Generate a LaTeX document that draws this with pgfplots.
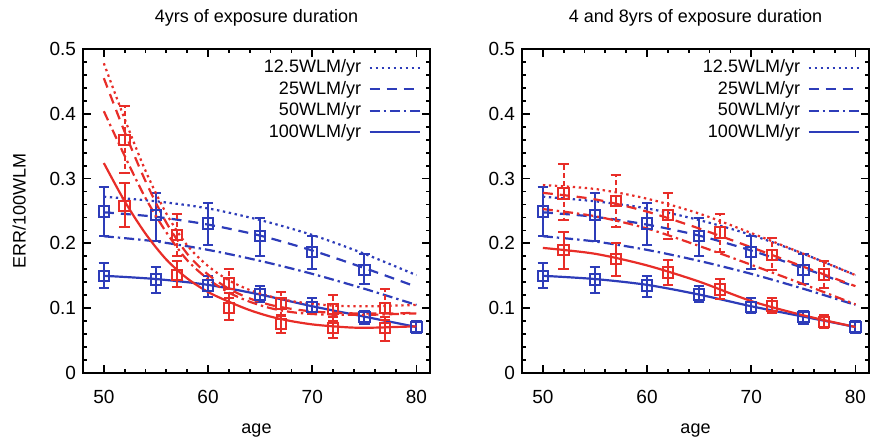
\documentclass[border=0pt]{standalone}
\usepackage{pgfplots}
\pgfplotsset{compat=1.18}
\usepackage{fontspec}
\setmainfont{Liberation Sans}
\definecolor{gblue}{RGB}{45,60,185}
\definecolor{gred}{RGB}{232,45,40}
\pgfplotsset{
  myaxis/.style={
    width=173.5pt, height=162pt, scale only axis,
    xmin=48, xmax=81.3, ymin=0, ymax=0.5,
    xtick={50,60,70,80}, minor x tick num=4,
    ytick={0,0.1,0.2,0.3,0.4,0.5}, minor y tick num=4,
    tick align=inside, tick pos=both,
    major tick length=4pt, minor tick length=2pt,
    every tick/.style={black, line width=0.9pt},
    axis line style={line width=1pt},
    tick label style={font=\fontsize{9.5}{11}\selectfont},
    /pgf/number format/assume math mode=true,
    yticklabel style={/pgf/number format/fixed, /pgf/number format/precision=1},
    xticklabel style={yshift=-5.3pt},
    every axis title/.style={at={(0.5,1)}, anchor=center, yshift=15.5pt, font=\fontsize{9}{11}\selectfont},
    label style={font=\fontsize{9}{11}\selectfont},
    xlabel style={at={(axis description cs:0.5,0)}, anchor=center, yshift=-29pt},
    legend style={at={(1,1)}, anchor=north east, xshift=-4.5pt, yshift=-4.5pt,
      draw=none, fill=none, inner sep=0pt, row sep=1.3pt, column sep=3pt,
      font=\fontsize{9}{10}\selectfont, nodes={inner sep=0.7pt}},
    legend cell align=right, legend plot pos=right,
    legend image code/.code={\draw[#1] (0pt,0pt) -- (25pt,0pt);},
  },
  ldot/.style={line width=1.1pt, dash pattern=on 1.2pt off 1.8pt, mark=none},
  ldash/.style={line width=1.1pt, dash pattern=on 5pt off 3.5pt, mark=none},
  ldashdot/.style={line width=1.1pt, dash pattern=on 5pt off 2pt on 1.2pt off 2pt, mark=none},
  lsolid/.style={line width=1.1pt, solid, mark=none},
  pts/.style={only marks, mark=square, mark size=2.6pt, line width=1pt,
    error bars/y dir=both, error bars/y explicit,
    error bars/error mark options={rotate=90, mark size=2.6pt, line width=1pt, solid},
    error bars/error bar style={line width=1pt}},
  dpts/.style={pts, error bars/error bar style={line width=1pt, dash pattern=on 2.5pt off 1.5pt}},
}
\begin{document}
\begin{tikzpicture}
\useasboundingbox (0pt,-32.5pt) rectangle (436.5pt,186.5pt);
% ---------------- left panel ----------------
\begin{axis}[myaxis, at={(41.5pt,0pt)}, anchor=south west,
  title={4yrs of exposure duration}, xlabel={age}, ylabel={ERR/100WLM},
  ylabel style={at={(axis description cs:-0.184,0.5)}, anchor=center}]
\addplot[gblue, ldot, smooth] coordinates {(50,0.272)(55,0.265)(60,0.254)(65,0.236)(70,0.213)(75,0.184)(80,0.151)};
\addlegendentry{12.5WLM/yr}
\addplot[gblue, ldash, smooth] coordinates {(50,0.248)(55,0.241)(60,0.229)(65,0.212)(70,0.189)(75,0.162)(80,0.133)};
\addlegendentry{25WLM/yr}
\addplot[gblue, ldashdot, smooth] coordinates {(50,0.211)(55,0.203)(60,0.190)(65,0.173)(70,0.153)(75,0.130)(80,0.105)};
\addlegendentry{50WLM/yr}
\addplot[gblue, lsolid, smooth] coordinates {(50,0.150)(55,0.145)(60,0.136)(65,0.121)(70,0.103)(75,0.087)(80,0.071)};
\addlegendentry{100WLM/yr}
\addplot[gblue, pts, forget plot] coordinates {
 (50,0.249) += (0,0.038) -= (0,0.038)
 (55,0.244) += (0,0.034) -= (0,0.041)
 (60,0.231) += (0,0.032) -= (0,0.033)
 (65,0.211) += (0,0.028) -= (0,0.031)
 (70,0.187) += (0,0.025) -= (0,0.027)
 (75,0.159) += (0,0.024) -= (0,0.021)};
\addplot[gblue, pts, forget plot] coordinates {
 (50,0.150) += (0,0.020) -= (0,0.019)
 (55,0.144) += (0,0.019) -= (0,0.020)
 (60,0.135) += (0,0.014) -= (0,0.017)
 (65,0.121) += (0,0.013) -= (0,0.012)
 (70,0.102) += (0,0.013) -= (0,0.010)
 (75,0.086) += (0,0.010) -= (0,0.010)
 (80,0.071) += (0,0.009) -= (0,0.009)};
\addplot[gred, ldot, smooth, forget plot] coordinates {(50,0.478)(52,0.392)(54,0.312)(56,0.246)(58,0.197)(60,0.165)(62,0.143)(64,0.128)(66,0.118)(68,0.111)(70,0.107)(72,0.104)(74,0.103)(76,0.103)(78,0.104)(80,0.105)};
\addplot[gred, ldash, smooth, forget plot] coordinates {(50,0.455)(52,0.372)(54,0.296)(56,0.232)(58,0.184)(60,0.152)(62,0.130)(64,0.115)(66,0.105)(68,0.099)(70,0.095)(72,0.093)(74,0.092)(76,0.092)(78,0.092)(80,0.093)};
\addplot[gred, ldashdot, smooth, forget plot] coordinates {(50,0.404)(52,0.335)(54,0.270)(56,0.217)(58,0.174)(60,0.145)(62,0.124)(64,0.110)(66,0.100)(68,0.094)(70,0.091)(72,0.090)(74,0.090)(76,0.090)(78,0.091)(80,0.092)};
\addplot[gred, lsolid, smooth, forget plot] coordinates {(50,0.324)(52,0.265)(54,0.215)(56,0.175)(58,0.146)(60,0.125)(62,0.110)(64,0.097)(66,0.087)(68,0.080)(70,0.075)(72,0.072)(74,0.070)(76,0.070)(78,0.071)(80,0.072)};
\addplot[gred, dpts, forget plot] coordinates {
 (52,0.360) += (0,0.052) -= (0,0.051)
 (57,0.213) += (0,0.033) -= (0,0.033)
 (62,0.138) += (0,0.022) -= (0,0.022)
 (67,0.107) += (0,0.018) -= (0,0.019)
 (72,0.099) += (0,0.021) -= (0,0.018)
 (77,0.100) += (0,0.029) -= (0,0.018)};
\addplot[gred, pts, forget plot] coordinates {
 (52,0.258) += (0,0.035) -= (0,0.033)
 (57,0.151) += (0,0.022) -= (0,0.018)
 (62,0.100) += (0,0.023) -= (0,0.018)
 (67,0.076) += (0,0.014) -= (0,0.014)
 (72,0.069) += (0,0.018) -= (0,0.015)
 (77,0.069) += (0,0.018) -= (0,0.019)};
\end{axis}
% ---------------- right panel ----------------
\begin{axis}[myaxis, at={(261pt,0pt)}, anchor=south west,
  title={4 and 8yrs of exposure duration}, xlabel={age}]
\addplot[gblue, ldot, smooth] coordinates {(50,0.272)(55,0.265)(60,0.254)(65,0.236)(70,0.213)(75,0.184)(80,0.151)};
\addlegendentry{12.5WLM/yr}
\addplot[gblue, ldash, smooth] coordinates {(50,0.248)(55,0.241)(60,0.229)(65,0.212)(70,0.189)(75,0.162)(80,0.133)};
\addlegendentry{25WLM/yr}
\addplot[gblue, ldashdot, smooth] coordinates {(50,0.211)(55,0.203)(60,0.190)(65,0.173)(70,0.153)(75,0.130)(80,0.105)};
\addlegendentry{50WLM/yr}
\addplot[gblue, lsolid, smooth] coordinates {(50,0.150)(55,0.145)(60,0.136)(65,0.121)(70,0.103)(75,0.087)(80,0.071)};
\addlegendentry{100WLM/yr}
\addplot[gblue, pts, forget plot] coordinates {
 (50,0.249) += (0,0.038) -= (0,0.038)
 (55,0.244) += (0,0.034) -= (0,0.041)
 (60,0.231) += (0,0.032) -= (0,0.033)
 (65,0.211) += (0,0.028) -= (0,0.031)
 (70,0.187) += (0,0.025) -= (0,0.027)
 (75,0.159) += (0,0.024) -= (0,0.021)};
\addplot[gblue, pts, forget plot] coordinates {
 (50,0.150) += (0,0.020) -= (0,0.019)
 (55,0.144) += (0,0.019) -= (0,0.020)
 (60,0.135) += (0,0.014) -= (0,0.017)
 (65,0.121) += (0,0.013) -= (0,0.012)
 (70,0.102) += (0,0.013) -= (0,0.010)
 (75,0.086) += (0,0.010) -= (0,0.010)
 (80,0.071) += (0,0.009) -= (0,0.009)};
\addplot[gred, ldot, smooth, forget plot] coordinates {(50,0.290)(55,0.284)(60,0.269)(65,0.246)(70,0.216)(75,0.184)(80,0.151)};
\addplot[gred, ldash, smooth, forget plot] coordinates {(50,0.278)(55,0.268)(60,0.249)(65,0.223)(70,0.194)(75,0.164)(80,0.134)};
\addplot[gred, ldashdot, smooth, forget plot] coordinates {(50,0.253)(55,0.242)(60,0.223)(65,0.196)(70,0.167)(75,0.137)(80,0.106)};
\addplot[gred, lsolid, smooth, forget plot] coordinates {(50,0.193)(55,0.184)(60,0.166)(65,0.141)(70,0.111)(75,0.089)(80,0.071)};
\addplot[gred, dpts, forget plot] coordinates {
 (52,0.277) += (0,0.045) -= (0,0.041)
 (57,0.265) += (0,0.040) -= (0,0.040)
 (62,0.244) += (0,0.034) -= (0,0.037)
 (67,0.217) += (0,0.029) -= (0,0.030)
 (72,0.182) += (0,0.026) -= (0,0.023)
 (77,0.152) += (0,0.021) -= (0,0.021)};
\addplot[gred, pts, forget plot] coordinates {
 (52,0.190) += (0,0.028) -= (0,0.030)
 (57,0.176) += (0,0.024) -= (0,0.026)
 (62,0.155) += (0,0.019) -= (0,0.019)
 (67,0.129) += (0,0.016) -= (0,0.015)
 (72,0.103) += (0,0.012) -= (0,0.011)
 (77,0.079) += (0,0.011) -= (0,0.010)};
\end{axis}
\end{tikzpicture}
\end{document}
